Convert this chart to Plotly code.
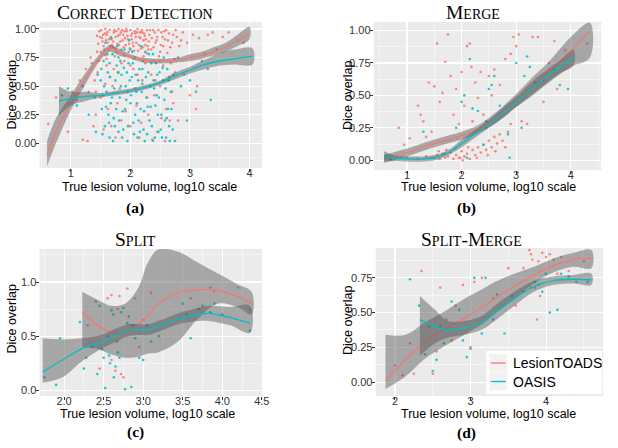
import plotly.graph_objects as go

W, H = 618, 448
RED = "#F8766D"
TEAL = "#00BFC4"
BAND = "rgba(90,90,90,0.48)"

SERIES_NAMES = ["LesionTOADS", "OASIS"]
TITLES = ["Correct Detection", "Merge", "Split", "Split-Merge"]
CAPTIONS = ["(a)", "(b)", "(c)", "(d)"]
X_TITLE = "True lesion volume, log10 scale"
Y_TITLE = "Dice overlap"

# ---------------- Panel (a): Correct Detection ----------------
A_RED_PTS = [
    (1.48, 0.98), (1.52, 0.92), (1.55, 0.85), (1.58, 1.0), (1.6, 0.95), (1.62, 0.88), (1.65, 0.99), (1.68, 0.91),
    (1.7, 0.84), (1.72, 0.97), (1.75, 0.93), (1.78, 0.87), (1.8, 1.0), (1.82, 0.95), (1.85, 0.82), (1.87, 0.9),
    (1.9, 0.98), (1.92, 0.86), (1.95, 0.94), (1.97, 0.8), (2.0, 0.99), (2.02, 0.91), (2.05, 0.85), (2.08, 0.96),
    (2.1, 0.88), (2.12, 1.0), (2.15, 0.93), (2.18, 0.83), (2.2, 0.97), (2.22, 0.9), (2.25, 0.86), (2.28, 0.99),
    (1.5, 0.8), (1.57, 0.96), (1.63, 0.82), (1.73, 0.99), (1.83, 0.89), (1.93, 1.0), (2.03, 0.96), (2.13, 0.81),
    (1.67, 0.93), (1.77, 0.8), (1.88, 0.95), (1.98, 0.87), (2.07, 0.98), (2.17, 0.92), (2.27, 0.79), (1.53, 0.89),
    (1.69, 0.86), (1.86, 0.99), (1.44, 0.94), (1.59, 0.9), (1.76, 0.98), (1.96, 0.91), (2.16, 0.97), (2.24, 0.94),
    (1.46, 0.87), (1.49, 0.93), (1.51, 0.99), (1.54, 0.95), (1.56, 0.82), (1.61, 0.97), (1.64, 0.91), (1.66, 0.85),
    (1.71, 0.89), (1.74, 0.83), (1.79, 0.94), (1.81, 0.86), (1.84, 0.97), (1.89, 0.84), (1.91, 0.92), (1.94, 0.98),
    (1.99, 0.83), (2.01, 0.94), (2.04, 0.88), (2.06, 0.81), (2.09, 0.93), (2.11, 0.97), (2.14, 0.86), (2.19, 0.99),
    (2.21, 0.84), (2.23, 0.96), (2.26, 0.91), (2.29, 0.85), (2.31, 0.89), (2.33, 0.99), (2.36, 0.92), (2.39, 0.84),
    (2.41, 0.97), (2.44, 0.9), (2.47, 0.99), (2.51, 0.86), (2.54, 0.93), (2.57, 0.98), (2.63, 0.9), (2.67, 0.84),
    (2.72, 0.95), (2.76, 0.99), (2.85, 0.9), (1.58, 0.77), (1.74, 0.76), (1.9, 0.77), (2.06, 0.74), (2.22, 0.76),
    (1.44, 0.8), (1.47, 0.72), (1.6, 0.74), (1.85, 0.7), (2.0, 0.68), (2.3, 0.82),
    (2.32, 0.95), (2.35, 0.82), (2.38, 0.99), (2.42, 0.88), (2.45, 0.93), (2.48, 0.76), (2.52, 0.97), (2.55, 0.85),
    (2.58, 0.91), (2.62, 0.79), (2.65, 0.96), (2.7, 0.88), (2.74, 0.74), (2.78, 0.93), (2.82, 0.85), (2.88, 0.97),
    (2.4, 0.72), (2.6, 0.99), (2.5, 0.8), (2.68, 0.7),
    (1.35, 0.7), (1.4, 0.55), (1.42, 0.25), (1.45, 0.62), (1.5, 0.4), (1.55, 0.12), (1.6, 0.68), (1.62, 0.3),
    (1.7, 0.5), (1.75, 0.05), (1.8, 0.62), (1.85, 0.2), (1.9, 0.72), (1.95, 0.45), (2.0, 0.15), (2.05, 0.65),
    (2.1, 0.33), (2.15, 0.05), (2.2, 0.55), (2.25, 0.7), (2.3, 0.25), (2.35, 0.6), (2.4, 0.42), (2.45, 0.1),
    (2.5, 0.5), (2.55, 0.68), (2.6, 0.3), (2.65, 0.58), (2.7, 0.45), (2.75, 0.62), (2.8, 0.2), (1.65, 0.58),
    (1.78, 0.35), (2.12, 0.6), (2.38, 0.02), (1.42, 0.45), (1.58, 0.52), (1.68, 0.15), (1.72, 0.65), (1.92, 0.28),
    (2.08, 0.48), (2.18, 0.18), (2.28, 0.4), (2.42, 0.55), (2.52, 0.22), (2.58, 0.02), (2.66, 0.2), (2.72, 0.35),
    (1.82, 0.48),
    (0.62, 0.17), (0.75, 0.4), (0.95, 0.1), (1.02, 0.45), (1.1, 0.38), (1.15, 0.55), (1.2, 0.03), (1.25, 0.65),
    (1.28, 0.02), (1.3, 0.45), (1.33, 0.75), (1.38, 0.15),
    (2.95, 0.88), (3.0, 0.42), (3.05, 0.95), (3.1, 0.3), (3.12, 0.5), (3.15, 0.92), (3.25, 0.78), (3.3, 0.95),
    (3.38, 0.97), (3.45, 0.82), (3.55, 0.93), (3.65, 0.97), (3.8, 0.9), (3.9, 0.88), (2.9, 0.6),
]
A_TEAL_PTS = [
    (1.5, 0.55), (1.52, 0.3), (1.55, 0.72), (1.57, 0.15), (1.6, 0.45), (1.62, 0.62), (1.65, 0.05), (1.67, 0.35),
    (1.7, 0.78), (1.72, 0.22), (1.75, 0.55), (1.77, 0.68), (1.8, 0.1), (1.82, 0.4), (1.85, 0.6), (1.87, 0.28),
    (1.9, 0.82), (1.92, 0.5), (1.95, 0.02), (1.97, 0.7), (2.0, 0.35), (2.02, 0.58), (2.05, 0.18), (2.07, 0.75),
    (2.1, 0.45), (2.12, 0.05), (2.15, 0.65), (2.17, 0.3), (2.2, 0.52), (2.22, 0.12), (2.25, 0.8), (2.27, 0.4),
    (2.3, 0.62), (2.32, 0.2), (2.35, 0.7), (2.37, 0.03), (2.4, 0.48), (2.42, 0.33), (2.45, 0.6), (2.47, 0.1),
    (2.5, 0.72), (2.52, 0.25), (2.55, 0.55), (2.57, 0.38), (2.6, 0.05), (2.62, 0.65), (2.65, 0.15), (2.68, 0.45),
    (1.58, 0.88), (1.68, 0.92), (1.78, 0.85), (1.88, 0.12), (1.98, 0.9), (2.08, 0.25), (2.18, 0.85), (2.28, 0.08),
    (2.38, 0.78), (2.48, 0.4), (2.58, 0.2), (1.63, 0.25), (1.73, 0.48), (1.83, 0.72), (1.93, 0.38), (2.03, 0.8),
    (2.13, 0.55), (2.23, 0.28), (2.33, 0.5), (2.43, 0.7), (2.53, 0.05), (2.63, 0.3), (1.54, 0.42), (1.74, 0.15),
    (1.94, 0.62), (2.14, 0.2), (2.34, 0.32), (2.54, 0.66),
    (1.51, 0.65), (1.53, 0.08), (1.56, 0.5), (1.59, 0.32), (1.61, 0.78), (1.64, 0.18), (1.66, 0.58), (1.69, 0.4),
    (1.71, 0.02), (1.76, 0.3), (1.79, 0.62), (1.81, 0.2), (1.84, 0.5), (1.86, 0.05), (1.89, 0.66), (1.91, 0.3),
    (1.96, 0.15), (1.99, 0.55), (2.01, 0.42), (2.04, 0.7), (2.06, 0.08), (2.09, 0.6), (2.11, 0.35), (2.16, 0.1),
    (2.19, 0.45), (2.21, 0.72), (2.24, 0.02), (2.26, 0.58), (2.29, 0.32), (2.31, 0.78), (2.36, 0.15), (2.39, 0.55),
    (2.41, 0.05), (2.44, 0.42), (2.46, 0.25), (2.49, 0.62), (2.51, 0.12), (2.56, 0.75), (2.59, 0.48), (2.61, 0.22),
    (2.64, 0.55), (2.66, 0.02), (2.69, 0.3), (2.71, 0.12), (1.65, 0.7), (2.0, 0.82), (2.2, 0.65), (1.8, 0.75),
    (0.85, 0.42), (0.95, 0.48), (1.1, 0.33), (1.2, 0.5), (1.3, 0.25), (1.4, 0.4), (1.45, 0.6), (1.42, 0.1),
    (2.72, 0.6), (2.8, 0.75), (2.85, 0.5), (2.95, 0.2), (3.0, 0.55), (3.1, 0.45), (3.2, 0.72), (3.35, 0.38),
    (3.3, 0.65), (2.75, 0.02),
]
A_RED_X = [0.6, 0.75, 1.0, 1.25, 1.5, 1.66, 1.8, 2.0, 2.2, 2.4, 2.6, 2.8, 3.0, 3.2, 3.4, 3.6, 3.8, 4.0]
A_RED_Y = [-0.10, 0.10, 0.35, 0.57, 0.76, 0.83, 0.80, 0.76, 0.73, 0.72, 0.72, 0.73, 0.75, 0.77, 0.80, 0.84, 0.90, 0.96]
A_RED_LO = [-0.20, 0.00, 0.29, 0.52, 0.73, 0.80, 0.77, 0.74, 0.71, 0.70, 0.70, 0.71, 0.72, 0.74, 0.77, 0.80, 0.85, 0.91]
A_RED_HI = [0.02, 0.22, 0.42, 0.62, 0.79, 0.86, 0.83, 0.78, 0.75, 0.74, 0.74, 0.75, 0.78, 0.80, 0.84, 0.88, 0.95, 1.02]
A_TEAL_X = [0.8, 1.0, 1.25, 1.5, 1.75, 2.0, 2.25, 2.5, 2.75, 3.0, 3.25, 3.5, 3.75, 4.05]
A_TEAL_Y = [0.37, 0.39, 0.41, 0.42, 0.44, 0.46, 0.49, 0.53, 0.59, 0.64, 0.69, 0.72, 0.74, 0.76]
A_TEAL_LO = [0.24, 0.33, 0.37, 0.40, 0.42, 0.44, 0.47, 0.51, 0.56, 0.61, 0.65, 0.68, 0.69, 0.69]
A_TEAL_HI = [0.50, 0.45, 0.45, 0.44, 0.46, 0.48, 0.51, 0.55, 0.62, 0.67, 0.73, 0.79, 0.82, 0.83]

# ---------------- Panel (b): Merge ----------------
B_RED_PTS = [
    (1.0, 0.02), (1.2, 0.01), (1.35, 0.03), (1.45, 0.02), (1.55, 0.04), (1.6, 0.01), (1.65, 0.05), (1.7, 0.02),
    (1.75, 0.03), (1.8, 0.06), (1.85, 0.01), (1.9, 0.04), (1.95, 0.02), (2.0, 0.07), (2.05, 0.03), (2.1, 0.05),
    (2.15, 0.01), (2.2, 0.08), (2.25, 0.04), (2.3, 0.1), (2.35, 0.06), (2.4, 0.12), (2.45, 0.08), (2.5, 0.15),
    (2.55, 0.1), (2.6, 0.18), (2.65, 0.13), (2.7, 0.2), (1.72, 0.08), (1.88, 0.09), (2.12, 0.1), (2.28, 0.02),
    (2.48, 0.04), (2.62, 0.07), (2.02, 0.0), (1.58, 0.07), (2.75, 0.15), (2.85, 0.22), (2.9, 0.28), (2.8, 0.1),
    (0.85, 0.25), (0.95, 0.12), (1.05, 0.17), (1.2, 0.42), (1.25, 0.35), (1.3, 0.3), (1.4, 0.6), (1.45, 0.22),
    (1.5, 0.57), (1.55, 0.9), (1.6, 0.45), (1.65, 0.52), (1.7, 0.76), (1.75, 0.97), (1.8, 0.65), (1.85, 0.35),
    (1.9, 0.55), (1.95, 0.28), (2.0, 0.68), (2.05, 0.42), (2.1, 0.88), (2.15, 0.9), (2.18, 0.72), (2.25, 0.6),
    (2.3, 0.48), (2.35, 0.68), (2.4, 0.35), (2.45, 0.25), (2.5, 0.65), (2.55, 0.5), (2.6, 0.7), (2.7, 0.58),
    (2.8, 0.78), (2.9, 0.82), (2.95, 0.95), (3.0, 0.88), (3.05, 0.97), (3.1, 0.3), (3.2, 0.28), (3.3, 0.95),
    (3.4, 0.95), (3.5, 0.45), (3.6, 0.75), (3.7, 0.92), (3.75, 0.55), (3.9, 0.85), (4.3, 0.9), (2.2, 0.3),
    (1.35, 0.18), (1.98, 0.02),
]
B_TEAL_PTS = [
    (0.62, 0.03), (0.7, 0.01), (1.3, 0.22), (1.9, 0.25), (2.0, 0.45), (2.05, 0.5), (2.15, 0.78), (2.2, 0.4),
    (2.3, 0.38), (2.4, 0.12), (2.5, 0.55), (2.55, 0.58), (2.7, 0.42), (2.85, 0.2), (2.88, 0.02), (3.0, 0.75),
    (3.1, 0.25), (3.15, 0.65), (3.2, 0.8), (3.25, 0.72), (3.35, 0.6), (3.5, 0.62), (3.7, 0.7), (3.8, 0.58),
    (3.95, 0.55), (1.7, 0.05), (2.1, 0.02), (2.45, 0.3), (1.5, 0.02), (2.6, 0.65),
]
B_RED_X = [0.58, 1.0, 1.5, 2.0, 2.3, 2.6, 3.0, 3.3, 3.6, 4.0, 4.35]
B_RED_Y = [0.01, 0.06, 0.13, 0.19, 0.24, 0.32, 0.46, 0.57, 0.68, 0.84, 1.00]
B_RED_LO = [-0.02, 0.03, 0.10, 0.16, 0.21, 0.28, 0.41, 0.50, 0.60, 0.72, 0.79]
B_RED_HI = [0.04, 0.09, 0.16, 0.22, 0.27, 0.36, 0.51, 0.64, 0.76, 0.95, 1.06]
B_TEAL_X = [0.58, 0.8, 1.0, 1.3, 1.6, 1.8, 2.0, 2.2, 2.5, 2.8, 3.0, 3.3, 3.6, 3.8, 4.05]
B_TEAL_Y = [0.03, 0.015, 0.01, 0.01, 0.03, 0.07, 0.13, 0.19, 0.28, 0.38, 0.45, 0.56, 0.66, 0.72, 0.79]
B_TEAL_LO = [-0.01, -0.005, -0.01, -0.01, 0.01, 0.05, 0.10, 0.16, 0.25, 0.34, 0.41, 0.51, 0.61, 0.67, 0.73]
B_TEAL_HI = [0.07, 0.035, 0.03, 0.03, 0.05, 0.09, 0.16, 0.22, 0.31, 0.42, 0.49, 0.61, 0.71, 0.77, 0.85]

# ---------------- Panel (c): Split ----------------
C_RED_PTS = [
    (2.3, 0.6), (2.45, 0.2), (2.55, 0.85), (2.6, 0.88), (2.65, 0.18), (2.7, 0.87), (2.72, 0.15), (2.75, 0.12),
    (2.8, 0.94), (2.85, 0.6), (2.9, 0.85), (2.95, 0.4), (3.0, 0.65), (3.1, 0.9), (3.6, 0.85), (3.85, 0.95),
    (3.9, 0.92), (4.2, 0.95), (4.35, 0.75), (2.6, 0.28), (2.68, 0.75),
]
C_TEAL_PTS = [
    (1.75, 0.12), (1.9, 0.05), (1.95, 0.48), (2.2, 0.63), (2.25, 0.2), (2.28, 0.3), (2.35, 0.4), (2.4, 0.82),
    (2.45, 0.78), (2.5, 0.3), (2.52, 0.02), (2.55, 0.5), (2.57, 0.32), (2.6, 0.74), (2.62, 0.7), (2.65, 0.22),
    (2.67, 0.45), (2.7, 0.3), (2.72, 0.72), (2.75, 0.76), (2.77, 0.01), (2.8, 0.62), (2.82, 0.68), (2.85, 0.03),
    (2.88, 0.6), (2.9, 0.48), (2.95, 0.3), (3.0, 0.28), (3.05, 0.6), (3.1, 0.45), (3.2, 0.5), (3.5, 0.8),
    (3.55, 0.7), (3.6, 0.48), (3.7, 0.75), (3.75, 0.78), (3.85, 0.72), (3.9, 0.8), (4.0, 0.7), (4.35, 0.55),
    (2.48, 0.38), (2.58, 0.25), (2.63, 0.12), (2.68, 0.35), (2.42, 0.15),
]
C_RED_X = [2.23, 2.44, 2.6, 2.77, 2.94, 3.06, 3.19, 3.44, 3.69, 3.94, 4.19, 4.37]
C_RED_Y = [0.72, 0.59, 0.53, 0.54, 0.61, 0.69, 0.80, 0.90, 0.93, 0.92, 0.87, 0.80]
C_RED_LO = [0.40, 0.38, 0.33, 0.30, 0.31, 0.34, 0.35, 0.45, 0.66, 0.80, 0.77, 0.70]
C_RED_HI = [0.91, 0.83, 0.78, 0.80, 0.95, 1.18, 1.30, 1.28, 1.18, 1.08, 0.98, 0.91]
C_TEAL_X = [1.73, 1.98, 2.23, 2.46, 2.69, 2.81, 2.94, 3.06, 3.19, 3.44, 3.69, 3.83, 4.10, 4.35]
C_TEAL_Y = [0.17, 0.28, 0.385, 0.44, 0.52, 0.555, 0.56, 0.56, 0.59, 0.66, 0.70, 0.71, 0.67, 0.62]
C_TEAL_LO = [0.07, 0.12, 0.27, 0.38, 0.46, 0.50, 0.51, 0.51, 0.54, 0.61, 0.64, 0.64, 0.60, 0.53]
C_TEAL_HI = [0.48, 0.47, 0.48, 0.51, 0.58, 0.61, 0.61, 0.61, 0.64, 0.71, 0.76, 0.78, 0.77, 0.78]

# ---------------- Panel (d): Split-Merge ----------------
D_RED_PTS = [
    (2.0, 0.12), (2.1, 0.05), (2.2, 0.28), (2.25, 0.06), (2.35, 0.8), (2.5, 0.06), (2.55, 0.22), (2.6, 0.68),
    (2.68, 0.45), (2.8, 0.55), (2.9, 0.7), (3.0, 0.25), (3.05, 0.72), (3.15, 0.75), (3.3, 0.6), (3.5, 0.82),
    (3.7, 0.82), (3.8, 0.92), (3.82, 0.88), (3.85, 0.68), (3.88, 0.45), (3.9, 0.87), (3.95, 0.93), (4.0, 0.9),
    (4.05, 0.92), (4.1, 0.88), (4.2, 0.9), (4.3, 0.8), (4.5, 0.87), (3.78, 0.95), (3.92, 0.62), (4.15, 0.78),
    (2.45, 0.4), (2.75, 0.3), (3.6, 0.55),
]
D_TEAL_PTS = [
    (2.2, 0.74), (2.32, 0.55), (2.4, 0.2), (2.55, 0.16), (2.6, 0.4), (2.65, 0.28), (2.75, 0.58), (2.85, 0.52),
    (2.95, 0.18), (3.0, 0.24), (3.05, 0.75), (3.15, 0.35), (3.2, 0.75), (3.3, 0.45), (3.45, 0.35), (3.55, 0.62),
    (3.7, 0.65), (3.8, 0.68), (3.85, 0.72), (3.9, 0.7), (4.0, 0.78), (4.05, 0.5), (4.15, 0.52), (4.2, 0.78),
    (4.3, 0.76), (4.4, 0.72), (4.55, 0.72), (3.95, 0.65), (2.9, 0.3), (2.5, 0.08), (3.35, 0.63),
]
D_RED_X = [1.875, 2.14, 2.40, 2.66, 2.92, 3.16, 3.32, 3.58, 3.84, 4.1, 4.36, 4.6]
D_RED_Y = [0.01, 0.16, 0.29, 0.38, 0.46, 0.54, 0.60, 0.69, 0.77, 0.84, 0.88, 0.89]
D_RED_LO = [-0.05, 0.04, 0.17, 0.26, 0.34, 0.42, 0.49, 0.60, 0.71, 0.79, 0.83, 0.82]
D_RED_HI = [0.34, 0.34, 0.43, 0.51, 0.60, 0.67, 0.72, 0.78, 0.83, 0.89, 0.93, 0.95]
D_TEAL_X = [2.33, 2.53, 2.70, 2.92, 3.16, 3.32, 3.58, 3.84, 4.1, 4.36, 4.6]
D_TEAL_Y = [0.45, 0.40, 0.375, 0.39, 0.43, 0.50, 0.60, 0.69, 0.73, 0.74, 0.735]
D_TEAL_LO = [0.19, 0.28, 0.32, 0.34, 0.38, 0.44, 0.55, 0.65, 0.70, 0.71, 0.70]
D_TEAL_HI = [0.62, 0.52, 0.44, 0.44, 0.48, 0.55, 0.65, 0.73, 0.76, 0.77, 0.78]


# ---------------- layout helpers (pixel positions -> paper) ----------------
def fx(p):
    return p / W


def fy(p):
    return 1 - p / H


PANELS = [
    dict(sfx="", red_pts=A_RED_PTS, teal_pts=A_TEAL_PTS,
         red=(A_RED_X, A_RED_Y, A_RED_LO, A_RED_HI), teal=(A_TEAL_X, A_TEAL_Y, A_TEAL_LO, A_TEAL_HI),
         dom=(40, 265, 22, 168), xr=[0.474, 4.21], yr=[-0.216, 1.061],
         xt=(0, 1, 0.5, ".0f"), yt=(0, 0.25, 0.125, ".2f")),
    dict(sfx="2", red_pts=B_RED_PTS, teal_pts=B_TEAL_PTS,
         red=(B_RED_X, B_RED_Y, B_RED_LO, B_RED_HI), teal=(B_TEAL_X, B_TEAL_Y, B_TEAL_LO, B_TEAL_HI),
         dom=(378, 608, 22, 170), xr=[0.39, 4.556], yr=[-0.075, 1.066],
         xt=(0, 1, 0.5, ".0f"), yt=(0, 0.25, 0.125, ".2f")),
    dict(sfx="3", red_pts=C_RED_PTS, teal_pts=C_TEAL_PTS,
         red=(C_RED_X, C_RED_Y, C_RED_LO, C_RED_HI), teal=(C_TEAL_X, C_TEAL_Y, C_TEAL_LO, C_TEAL_HI),
         dom=(40, 265, 249, 396), xr=[1.69, 4.502], yr=[-0.053, 1.305],
         xt=(0, 0.5, 0.25, ".1f"), yt=(0, 0.5, 0.25, ".1f")),
    dict(sfx="4", red_pts=D_RED_PTS, teal_pts=D_TEAL_PTS,
         red=(D_RED_X, D_RED_Y, D_RED_LO, D_RED_HI), teal=(D_TEAL_X, D_TEAL_Y, D_TEAL_LO, D_TEAL_HI),
         dom=(380, 610, 248, 396), xr=[1.745, 4.755], yr=[-0.10, 0.965],
         xt=(0, 1, 0.5, ".0f"), yt=(0, 0.25, 0.125, ".2f")),
]

fig = go.Figure()
layout_axes = {}
TICKFONT = dict(family="Liberation Sans, Arial, sans-serif", size=11, color="#333333")

for p in PANELS:
    xa, ya = "x" + p["sfx"], "y" + p["sfx"]
    for pts, col in ((p["red_pts"], RED), (p["teal_pts"], TEAL)):
        fig.add_trace(go.Scatter(
            x=[q[0] for q in pts], y=[q[1] for q in pts], mode="markers",
            marker=dict(color=col, size=2.6, opacity=0.85, line=dict(width=0)),
            xaxis=xa, yaxis=ya, showlegend=False, hoverinfo="skip"))
    for (sx, sy, lo, hi), col in ((p["red"], RED), (p["teal"], TEAL)):
        fig.add_trace(go.Scatter(
            x=list(sx) + list(sx)[::-1], y=list(hi) + list(lo)[::-1],
            fill="toself", fillcolor=BAND, line=dict(width=0, shape="spline"),
            mode="lines", xaxis=xa, yaxis=ya, showlegend=False, hoverinfo="skip"))
        fig.add_trace(go.Scatter(
            x=sx, y=sy, mode="lines", line=dict(color=col, width=1.3, shape="spline"),
            xaxis=xa, yaxis=ya, showlegend=False, hoverinfo="skip"))

    x0, x1, y0, y1 = p["dom"]
    common = dict(showgrid=True, gridcolor="white", gridwidth=1.1, zeroline=False, showline=False,
                  ticks="outside", ticklen=3, tickwidth=1, tickcolor="#333333", tickfont=TICKFONT,
                  fixedrange=True)
    t0, dt, mt0, fmt = p["xt"]
    layout_axes["xaxis" + p["sfx"]] = dict(
        common, domain=[fx(x0), fx(x1)], anchor=ya, range=p["xr"], tick0=t0, dtick=dt, tickformat=fmt,
        ticklabelstandoff=-8,
        minor=dict(showgrid=True, gridcolor="white", gridwidth=0.5, tick0=mt0, dtick=dt, ticks=""))
    t0, dt, mt0, fmt = p["yt"]
    layout_axes["yaxis" + p["sfx"]] = dict(
        common, domain=[fy(y1), fy(y0)], anchor=xa, range=p["yr"], tick0=t0, dtick=dt, tickformat=fmt,
        ticklabelstandoff=-3,
        minor=dict(showgrid=True, gridcolor="white", gridwidth=0.5, tick0=mt0, dtick=dt, ticks=""))

# ---------------- annotations ----------------
ann = []
SERIF = "Liberation Serif, Times New Roman, serif"
SANS = "Liberation Sans, Arial, sans-serif"
title_pos = [(137, 12.5), (478, 12.5), (137, 239), (477, 239)]
cap_pos = [(137, 208), (472, 208), (137, 432), (472, 433)]
xt_pos = [(151, 187), (494, 187), (149, 414), (494, 414)]
yt_pos = [(11.7, 95), (352, 95), (11.7, 319), (352, 320)]
for i in range(4):
    ann.append(dict(text=TITLES[i], x=fx(title_pos[i][0]), y=fy(title_pos[i][1]), xref="paper", yref="paper",
                    showarrow=False, xanchor="center", yanchor="middle",
                    font=dict(family=SERIF, size=19.5, color="black", variant="small-caps")))
    ann.append(dict(text="<b>" + CAPTIONS[i] + "</b>", x=fx(cap_pos[i][0]), y=fy(cap_pos[i][1]),
                    xref="paper", yref="paper", showarrow=False, xanchor="center", yanchor="middle",
                    font=dict(family=SERIF, size=15.5, color="black")))
    ann.append(dict(text=X_TITLE, x=fx(xt_pos[i][0]), y=fy(xt_pos[i][1]), xref="paper", yref="paper",
                    showarrow=False, xanchor="center", yanchor="middle",
                    font=dict(family=SANS, size=12.5, color="black")))
    ann.append(dict(text=Y_TITLE, x=fx(yt_pos[i][0]), y=fy(yt_pos[i][1]), xref="paper", yref="paper",
                    showarrow=False, xanchor="center", yanchor="middle", textangle=-90,
                    font=dict(family=SANS, size=12.5, color="black")))

# legend (drawn inside panel d)
shapes = [dict(type="rect", xref="paper", yref="paper", x0=fx(492), x1=fx(609), y0=fy(394), y1=fy(351),
               fillcolor="white", line=dict(width=0), layer="above")]
for name, col, yc in ((SERIES_NAMES[0], RED, 363), (SERIES_NAMES[1], TEAL, 381.5)):
    shapes.append(dict(type="rect", xref="paper", yref="paper", x0=fx(495), x1=fx(513), y0=fy(yc + 9),
                       y1=fy(yc - 9), fillcolor="#F2F2F2", line=dict(width=0), layer="above"))
    shapes.append(dict(type="line", xref="paper", yref="paper", x0=fx(496.5), x1=fx(511.5), y0=fy(yc),
                       y1=fy(yc), line=dict(color=col, width=1.3), layer="above"))
    ann.append(dict(text=name, x=fx(516.5), y=fy(yc), xref="paper", yref="paper", showarrow=False,
                    xanchor="left", yanchor="middle", font=dict(family=SANS, size=14, color="black")))

fig.update_layout(
    width=W, height=H, margin=dict(l=0, r=0, t=0, b=0),
    paper_bgcolor="white", plot_bgcolor="#EBEBEB", hovermode=False,
    showlegend=False, annotations=ann, shapes=shapes, **layout_axes)

fig.write_html("out.html", config={"displayModeBar": False, "staticPlot": True},
               post_script="document.body.style.margin='0px';")
